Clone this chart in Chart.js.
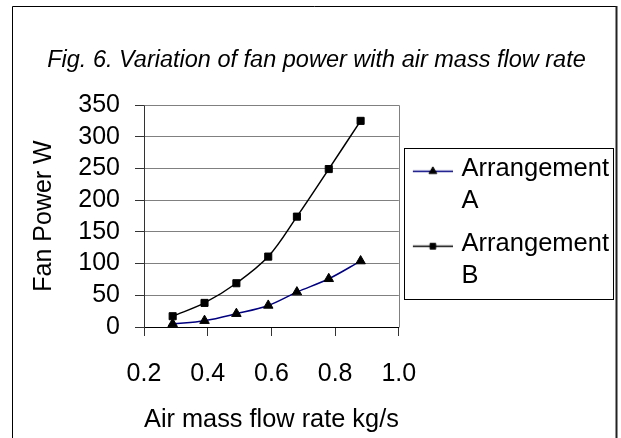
<!DOCTYPE html>
<html><head><meta charset="utf-8">
<script src="https://cdn.jsdelivr.net/npm/chart.js@4/dist/chart.umd.min.js"></script>
<style>html,body{margin:0;padding:0;background:#fff}#wrap{width:621px;height:438px}</style>
</head><body><div id="wrap"><canvas id="c" width="621" height="438"></canvas></div>
<script>
const titleText = 'Fig. 6. Variation of fan power with air mass flow rate';
const xAxisTitle = 'Air mass flow rate kg/s';
const yAxisTitle = 'Fan Power W';
const massFlow = [0.29, 0.39, 0.49, 0.59, 0.68, 0.78, 0.88];
const powerA = [5, 10, 21, 34, 55, 76, 104];
const powerB = [17, 38, 69, 111, 174, 249, 325];
const seriesNames = [['Arrangement', 'A'], ['Arrangement', 'B']];
const xTickLabels = ['0.2', '0.4', '0.6', '0.8', '1.0'];
const yTickValues = [0, 50, 100, 150, 200, 250, 300, 350];

const FONT = "'Liberation Sans', Arial, sans-serif";

function legendIcon(color, style, radius) {
  const c = document.createElement('canvas');
  c.width = 48; c.height = 20;
  const g = c.getContext('2d');
  g.strokeStyle = color; g.lineWidth = 1.5;
  g.beginPath(); g.moveTo(8, 12.5); g.lineTo(48, 12.5); g.stroke();
  g.fillStyle = '#000'; g.strokeStyle = '#000'; g.lineWidth = 1;
  if (Chart.helpers && Chart.helpers.drawPoint) {
    Chart.helpers.drawPoint(g, {pointStyle: style, radius: radius, rotation: 0, borderWidth: 1}, 28, 12.5);
  } else {
    g.fillRect(28 - radius / 2, 12.5 - radius / 2, radius, radius);
  }
  return c;
}

const seriesColors = ['#000080', '#000000'];
const seriesStyles = ['triangle', 'rect'];
const icons = [legendIcon(seriesColors[0], 'triangle', 4.5), legendIcon(seriesColors[1], 'rect', 4)];

const decor = {
  id: 'decor',
  beforeDatasetsDraw(chart) {
    const a = chart.chartArea, ctx = chart.ctx;
    ctx.save();
    ctx.strokeStyle = '#808080'; ctx.lineWidth = 1;
    const l = Math.round(a.left) + 0.5, t = Math.round(a.top) + 0.5, r = Math.round(a.right) + 0.5, b = Math.round(a.bottom) + 0.5;
    ctx.beginPath(); ctx.moveTo(l, t); ctx.lineTo(r, t); ctx.lineTo(r, b); ctx.stroke();
    ctx.restore();
  },
  afterDraw(chart) {
    const ctx = chart.ctx;
    ctx.save();
    ctx.strokeStyle = '#000'; ctx.lineWidth = 1;
    ctx.beginPath(); ctx.moveTo(12.5, chart.height + 2); ctx.lineTo(12.5, 6.5); ctx.lineTo(616, 6.5); ctx.stroke();
    ctx.strokeStyle = '#222'; ctx.lineWidth = 2;
    ctx.beginPath(); ctx.moveTo(616.5, 6); ctx.lineTo(616.5, chart.height + 2); ctx.stroke();
    const hb = chart.legend.legendHitBoxes;
    if (hb && hb.length) {
      const l = Math.min(...hb.map(h => h.left)) - 5;
      const r = Math.max(...hb.map(h => h.left + h.width)) + 4;
      const t = hb[0].top - 8;
      const last = hb[hb.length - 1];
      const b = last.top + last.height + 3;
      ctx.strokeStyle = '#000'; ctx.lineWidth = 1;
      ctx.strokeRect(Math.round(l) + 0.5, Math.round(t) + 0.5, Math.round(r - l), Math.round(b - t));
    }
    ctx.restore();
  }
};

new Chart(document.getElementById('c'), {
  type: 'line',
  data: {
    datasets: [
      {
        label: seriesNames[0],
        data: massFlow.map((x, i) => ({x: x, y: powerA[i]})),
        borderColor: seriesColors[0], borderWidth: 1.5,
        pointStyle: seriesStyles[0], pointRadius: 5.5,
        pointBackgroundColor: '#000', pointBorderColor: '#000', pointBorderWidth: 1,
        tension: 0.35, fill: false
      },
      {
        label: seriesNames[1],
        data: massFlow.map((x, i) => ({x: x, y: powerB[i]})),
        borderColor: seriesColors[1], borderWidth: 1.5,
        pointStyle: seriesStyles[1], pointRadius: 5,
        pointBackgroundColor: '#000', pointBorderColor: '#000', pointBorderWidth: 1,
        tension: 0.35, fill: false
      }
    ]
  },
  options: {
    responsive: false, animation: false, devicePixelRatio: 1,
    layout: {padding: {left: 14, right: 2, top: 0, bottom: 0}},
    plugins: {
      title: {
        display: true, text: titleText, color: '#000',
        font: {family: FONT, size: 23.5, style: 'italic', weight: 'normal', lineHeight: 1.2},
        padding: {top: 45.9, bottom: 30.9}
      },
      legend: {
        position: 'right', align: 'center', maxWidth: 300,
        title: {display: true, text: '', padding: 0, font: {size: 14, lineHeight: 1}},
        labels: {
          color: '#000', font: {family: FONT, size: 25.5, lineHeight: 1.2745},
          padding: 10, usePointStyle: true, pointStyleWidth: 40,
          generateLabels(chart) {
            const items = Chart.defaults.plugins.legend.labels.generateLabels(chart);
            items.forEach((it, i) => { it.pointStyle = icons[i]; it.text = seriesNames[i]; it.fontColor = '#000'; });
            return items;
          }
        }
      },
      tooltip: {enabled: false}
    },
    scales: {
      x: {
        type: 'linear',
        min: parseFloat(xTickLabels[0]), max: parseFloat(xTickLabels[xTickLabels.length - 1]),
        ticks: {
          stepSize: 0.2, color: '#000', font: {family: FONT, size: 25}, padding: 23,
          maxRotation: 0, autoSkip: false,
          callback: (v) => xTickLabels[Math.round((v - parseFloat(xTickLabels[0])) / 0.2)]
        },
        grid: {display: true, drawOnChartArea: false, drawTicks: true, tickLength: 9, tickColor: '#333'},
        border: {color: '#000', width: 1},
        title: {display: true, text: xAxisTitle, color: '#000', font: {family: FONT, size: 25.5}, padding: {top: 16, bottom: 3}},
        afterFit(s) { s.height = 111; }
      },
      y: {
        min: yTickValues[0], max: yTickValues[yTickValues.length - 1],
        ticks: {stepSize: yTickValues[1] - yTickValues[0], autoSkip: false, color: '#000', font: {family: FONT, size: 25}, padding: 15},
        grid: {color: '#808080', lineWidth: 1, tickLength: 9, tickColor: '#333'},
        border: {color: '#333', width: 1},
        title: {display: true, text: yAxisTitle, color: '#000', font: {family: FONT, size: 25}, padding: {top: 15, bottom: 19}},
        afterFit(s) { s.width = 130; }
      }
    }
  },
  plugins: [decor]
});
</script>
</body></html>
